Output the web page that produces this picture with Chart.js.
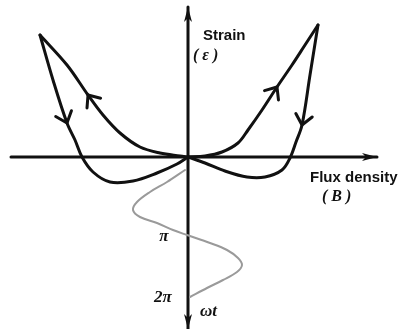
<!DOCTYPE html>
<html>
<head>
<meta charset="utf-8">
<script src="https://cdn.jsdelivr.net/npm/chart.js@4.4.0/dist/chart.umd.min.js"></script>
<style>
html, body { margin: 0; padding: 0; background: #fff; }
#wrap { position: relative; width: 410px; height: 329px; }
</style>
</head>
<body>
<div id="wrap"><canvas id="butterflyChart"></canvas></div>
<script>
// Flux density B (x) against strain (y)
// branches go in the direction of travel
const leftRise = [
  {x: 0, y: 0}, {x: -0.8, y: 0.1}, {x: -2.8, y: 0.4}, {x: -4.8, y: 1.0}, {x: -6.8, y: 2.4},
  {x: -8.5, y: 4.2}, {x: -10.0, y: 6.2}, {x: -12.1, y: 9.2}, {x: -14.8, y: 12.2}
];
const leftFall = [
  {x: -14.8, y: 12.2}, {x: -13.5, y: 7.7}, {x: -12.1, y: 3.4}, {x: -11.3, y: 1.7}, {x: -10.6, y: 0},
  {x: -9.5, y: -1.5}, {x: -7.8, y: -2.5}, {x: -5.5, y: -2.4}, {x: -3.1, y: -1.6}, {x: -1.1, y: -0.7}, {x: 0, y: 0}
];
const rightRise = [
  {x: 0, y: 0}, {x: 1.7, y: 0.1}, {x: 3.4, y: 0.5}, {x: 5.0, y: 1.4}, {x: 6.0, y: 2.7},
  {x: 7.4, y: 4.7}, {x: 8.9, y: 7.0}, {x: 10.4, y: 9.2}, {x: 11.7, y: 11.2}, {x: 13.0, y: 13.2}
];
const rightFall = [
  {x: 13.0, y: 13.2}, {x: 12.2, y: 8.2}, {x: 11.4, y: 3.2}, {x: 10.8, y: 1.5}, {x: 10.2, y: -0.1},
  {x: 9.4, y: -1.3}, {x: 7.7, y: -2.0}, {x: 5.9, y: -2.0}, {x: 3.7, y: -1.4}, {x: 1.7, y: -0.6}, {x: 0, y: 0}
];
// field B over one period, omega*t running down the strain axis
const fieldWave = [
  {x: -0.3, y: -1.3}, {x: -2.1, y: -2.5}, {x: -3.8, y: -3.5}, {x: -5.1, y: -4.5}, {x: -5.5, y: -5.3},
  {x: -4.8, y: -6.0}, {x: -3.1, y: -6.6}, {x: -1.5, y: -7.3}, {x: -0.1, y: -7.8}, {x: 2.2, y: -8.6},
  {x: 3.9, y: -9.3}, {x: 5.0, y: -10.1}, {x: 5.4, y: -10.8}, {x: 4.9, y: -11.5}, {x: 3.5, y: -12.3},
  {x: 1.9, y: -13.1}, {x: 0.2, y: -14.0}
];
const bAxis = [{x: -17.7, y: 0}, {x: 18.9, y: 0}];
const strainAxis = [{x: 0, y: 15.0}, {x: 0, y: -17.2}];

const INK = '#111';

function chevron(ctx, tip, from, to, len) {
  const a = Math.atan2(to.y - from.y, to.x - from.x);
  ctx.beginPath();
  ctx.moveTo(tip.x + len * Math.cos(a + Math.PI - 0.7), tip.y + len * Math.sin(a + Math.PI - 0.7));
  ctx.lineTo(tip.x, tip.y);
  ctx.lineTo(tip.x + len * Math.cos(a + Math.PI + 0.7), tip.y + len * Math.sin(a + Math.PI + 0.7));
  ctx.stroke();
}

function arrowHead(ctx, tip, back, half) {
  const a = Math.atan2(tip.y - back.y, tip.x - back.x);
  const len = 15;
  const bx = tip.x - len * Math.cos(a), by = tip.y - len * Math.sin(a);
  ctx.beginPath();
  ctx.moveTo(tip.x, tip.y);
  ctx.lineTo(bx + half * Math.cos(a + Math.PI / 2), by + half * Math.sin(a + Math.PI / 2));
  ctx.lineTo(bx + 4 * Math.cos(a), by + 4 * Math.sin(a));
  ctx.lineTo(bx - half * Math.cos(a + Math.PI / 2), by - half * Math.sin(a + Math.PI / 2));
  ctx.closePath();
  ctx.fill();
}

const sketchMarks = {
  id: 'sketchMarks',
  afterDatasetsDraw(chart) {
    const ctx = chart.ctx;
    const xs = chart.scales.x, ys = chart.scales.y;
    const px = p => ({x: xs.getPixelForValue(p.x), y: ys.getPixelForValue(p.y)});
    ctx.save();
    ctx.strokeStyle = INK;
    ctx.fillStyle = INK;
    ctx.lineWidth = 3;
    ctx.lineCap = 'round';
    ctx.lineJoin = 'round';

    // axis arrow heads
    arrowHead(ctx, px(bAxis[1]), px(bAxis[0]), 4);
    arrowHead(ctx, px(strainAxis[0]), px(strainAxis[1]), 4);
    arrowHead(ctx, px(strainAxis[1]), px(strainAxis[0]), 4);

    // direction marks on the loops
    [[leftRise, 6], [leftFall, 2], [rightRise, 6], [rightFall, 2]].forEach(([arr, i]) => {
      chevron(ctx, px(arr[i]), px(arr[i - 1]), px(arr[i + 1]), 13);
    });

    // labels
    const labels = [
      {text: 'Strain', x: 1.5, y: 12.1, font: 'bold 15px "Liberation Sans", Arial, sans-serif', align: 'left'},
      {text: '( ε )', x: 0.5, y: 10.1, font: 'italic bold 16px "Liberation Serif", serif', align: 'left'},
      {text: 'Flux density', x: 12.2, y: -2.1, font: 'bold 15px "Liberation Sans", Arial, sans-serif', align: 'left'},
      {text: '( B )', x: 13.4, y: -4.0, font: 'italic bold 16px "Liberation Serif", serif', align: 'left'},
      {text: 'π', x: -2.4, y: -8.0, font: 'italic bold 17px "Liberation Serif", serif', align: 'center'},
      {text: '2π', x: -2.5, y: -14.1, font: 'italic bold 17px "Liberation Serif", serif', align: 'center'},
      {text: 'ωt', x: 1.2, y: -15.5, font: 'italic bold 17px "Liberation Serif", serif', align: 'left'}
    ];
    ctx.textBaseline = 'middle';
    labels.forEach(l => {
      const p = px(l);
      ctx.font = l.font;
      ctx.textAlign = l.align;
      ctx.fillText(l.text, p.x, p.y);
    });
    ctx.restore();
  }
};

const curve = (data) => ({
  data: data,
  showLine: true,
  borderColor: INK,
  borderWidth: 3,
  pointRadius: 0,
  tension: 0.35,
  borderCapStyle: 'round',
  borderJoinStyle: 'round'
});

new Chart(document.getElementById('butterflyChart'), {
  type: 'scatter',
  data: {
    datasets: [
      Object.assign(curve(fieldWave), {borderColor: '#9a9a9a', borderWidth: 2}),
      curve(leftRise),
      curve(leftFall),
      curve(rightRise),
      curve(rightFall),
      Object.assign(curve(bAxis), {tension: 0}),
      Object.assign(curve(strainAxis), {tension: 0})
    ]
  },
  options: {
    responsive: true,
    maintainAspectRatio: false,
    animation: false,
    layout: { padding: 0 },
    plugins: {
      legend: { display: false },
      tooltip: { enabled: false }
    },
    scales: {
      x: { type: 'linear', min: -18.8, max: 22.2, display: false },
      y: { type: 'linear', min: -17.2, max: 15.7, display: false }
    }
  },
  plugins: [sketchMarks]
});
</script>
</body>
</html>
